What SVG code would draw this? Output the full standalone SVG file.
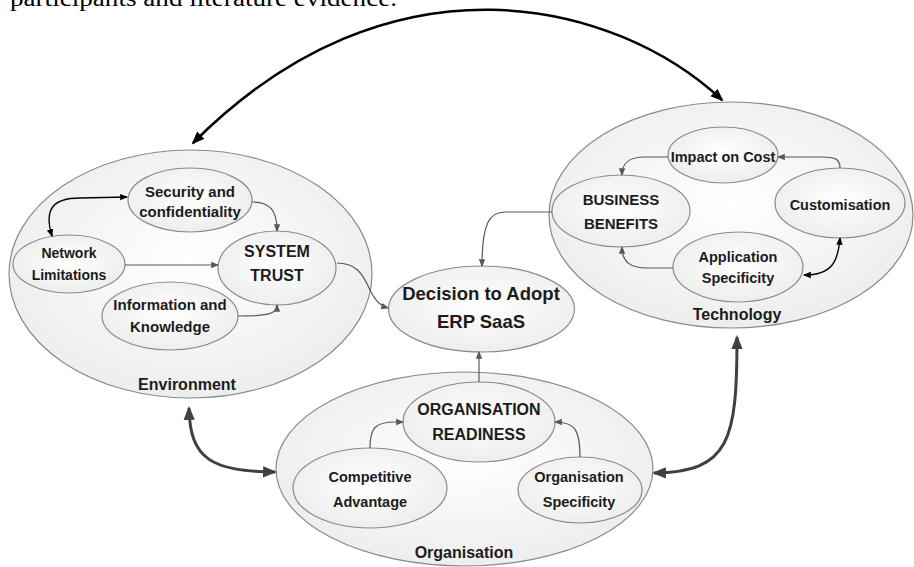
<svg xmlns="http://www.w3.org/2000/svg" width="914" height="567" viewBox="0 0 914 567">
<defs>
<radialGradient id="gf" cx="50%" cy="45%" r="60%">
<stop offset="0" stop-color="#ffffff"/>
<stop offset="1" stop-color="#ececec"/>
</radialGradient>
<marker id="aS" viewBox="0 0 10 10" markerWidth="8" markerHeight="8" refX="8.5" refY="5" orient="auto-start-reverse" markerUnits="userSpaceOnUse"><path d="M0,1 L10,5 L0,9 z" fill="#595959"/></marker>
<marker id="aK" viewBox="0 0 10 10" markerWidth="8" markerHeight="8" refX="8.5" refY="5" orient="auto-start-reverse" markerUnits="userSpaceOnUse"><path d="M0,1 L10,5 L0,9 z" fill="#000"/></marker>
<marker id="aT" viewBox="0 0 10 10" markerWidth="14" markerHeight="14" refX="8.5" refY="5" orient="auto-start-reverse" markerUnits="userSpaceOnUse"><path d="M0,1 L10,5 L0,9 z" fill="#404040"/></marker>
<marker id="aB" viewBox="0 0 10 10" markerWidth="13" markerHeight="13" refX="8.5" refY="5" orient="auto-start-reverse" markerUnits="userSpaceOnUse"><path d="M0,1 L10,5 L0,9 z" fill="#000"/></marker>
</defs>
<style>
.big{fill:url(#gf);stroke:#8a8a8a;stroke-width:1.2}
.nd{fill:url(#gf);stroke:#8a8a8a;stroke-width:1.2}
text{font-family:"Liberation Sans",Arial,sans-serif;font-weight:bold;fill:#1c1c1c;text-anchor:middle}
.c{fill:none;stroke:#595959;stroke-width:1.2;marker-end:url(#aS)}
.ck{fill:none;stroke:#000;stroke-width:1.4;marker-start:url(#aK);marker-end:url(#aK)}
.ct{fill:none;stroke:#404040;stroke-width:3;marker-start:url(#aT);marker-end:url(#aT)}
.cb{fill:none;stroke:#000;stroke-width:2.5;marker-start:url(#aB);marker-end:url(#aB)}
.f15{font-size:15px}.f14{font-size:14.5px}.f16{font-size:16px}
</style>
<rect width="914" height="567" fill="#fff"/>
<text x="10" y="6" style="font-family:'Liberation Serif',serif;font-weight:normal;font-size:24px;text-anchor:start;fill:#000" textLength="387" lengthAdjust="spacingAndGlyphs">participants and literature evidence.</text>

<g id="environment">
<ellipse class="big" cx="190.5" cy="274" rx="181.5" ry="124"/>
<text class="f16" x="187" y="390">Environment</text>
</g>
<g id="technology">
<ellipse class="big" cx="731" cy="215" rx="182" ry="113"/>
<text class="f16" x="737" y="320">Technology</text>
</g>
<g id="organisation">
<ellipse class="big" cx="464.5" cy="469" rx="188.5" ry="97"/>
<text class="f16" x="464" y="558">Organisation</text>
</g>

<g id="security">
<ellipse class="nd" cx="190" cy="200" rx="62" ry="32"/>
<text class="f15" x="190" y="197">Security and</text>
<text class="f15" x="190" y="217">confidentiality</text>
</g>
<g id="network">
<ellipse class="nd" cx="69" cy="264" rx="56" ry="29"/>
<text x="69" y="258" style="font-size:14px">Network</text>
<text x="69" y="280" style="font-size:14px">Limitations</text>
</g>
<g id="system-trust">
<ellipse class="nd" cx="277" cy="268" rx="59" ry="37"/>
<text class="f16" x="277" y="257">SYSTEM</text>
<text class="f16" x="277" y="281">TRUST</text>
</g>
<g id="information">
<ellipse class="nd" cx="170" cy="316" rx="68" ry="34"/>
<text class="f15" x="170" y="310">Information and</text>
<text class="f15" x="170" y="332">Knowledge</text>
</g>
<g id="decision">
<ellipse class="nd" cx="481.5" cy="309" rx="93" ry="43"/>
<text x="481" y="300" style="font-size:18.5px">Decision to Adopt</text>
<text x="481" y="328" style="font-size:18.5px">ERP SaaS</text>
</g>
<g id="impact-cost">
<ellipse class="nd" cx="723" cy="155" rx="55" ry="28"/>
<text class="f14" x="723" y="162">Impact on Cost</text>
</g>
<g id="customisation">
<ellipse class="nd" cx="840" cy="203" rx="65" ry="35"/>
<text class="f14" x="840" y="210">Customisation</text>
</g>
<g id="business-benefits">
<ellipse class="nd" cx="621" cy="211" rx="69" ry="36"/>
<text class="f15" x="621" y="205">BUSINESS</text>
<text class="f15" x="621" y="229">BENEFITS</text>
</g>
<g id="application-specificity">
<ellipse class="nd" cx="738" cy="267" rx="65" ry="35"/>
<text class="f14" x="738" y="262">Application</text>
<text class="f14" x="738" y="283">Specificity</text>
</g>
<g id="org-readiness">
<ellipse class="nd" cx="479" cy="422" rx="76" ry="40"/>
<text class="f16" x="479" y="415">ORGANISATION</text>
<text class="f16" x="479" y="440">READINESS</text>
</g>
<g id="competitive">
<ellipse class="nd" cx="370" cy="488" rx="77" ry="40"/>
<text class="f14" x="370" y="482">Competitive</text>
<text class="f14" x="370" y="507">Advantage</text>
</g>
<g id="org-specificity">
<ellipse class="nd" cx="580" cy="490" rx="62" ry="33"/>
<text class="f14" x="579" y="482">Organisation</text>
<text class="f14" x="579" y="507">Specificity</text>
</g>

<g id="connectors">
<path class="cb" d="M193,143 C390,-55 615,0 722,100"/>
<path class="ck" d="M52,236 C44,210 52,198 80,198 L127,197"/>
<path class="c" d="M252,202 C270,202 277,210 277,231"/>
<path class="c" d="M125,265 L218,265"/>
<path class="c" d="M238,316 C268,316 277,314 277,305"/>
<path class="c" d="M337,263 C355,263 362,272 370,290 C376,302 381,306 388,308"/>
<path class="c" d="M552,212 L505,212 C490,212 482,222 482,266"/>
<path class="c" d="M479,382 L479,352"/>
<path class="c" d="M370,448 C370,428 375,422 395,422 L403,422"/>
<path class="c" d="M580,457 C580,430 575,422 555,422"/>
<path class="c" d="M840,168 C840,159 835,157 822,157 L778,157"/>
<path class="c" d="M668,157 L645,157 C630,157 622,162 622,175"/>
<path class="c" d="M673,268 L648,268 C630,268 622,262 622,247"/>
<path class="ck" d="M840,238 C838,262 832,275 804,275"/>
<path class="ct" d="M189,408 C190,460 212,471 275,472"/>
<path class="ct" d="M737,337 C737,440 730,472 654,473"/>
</g>
</svg>
